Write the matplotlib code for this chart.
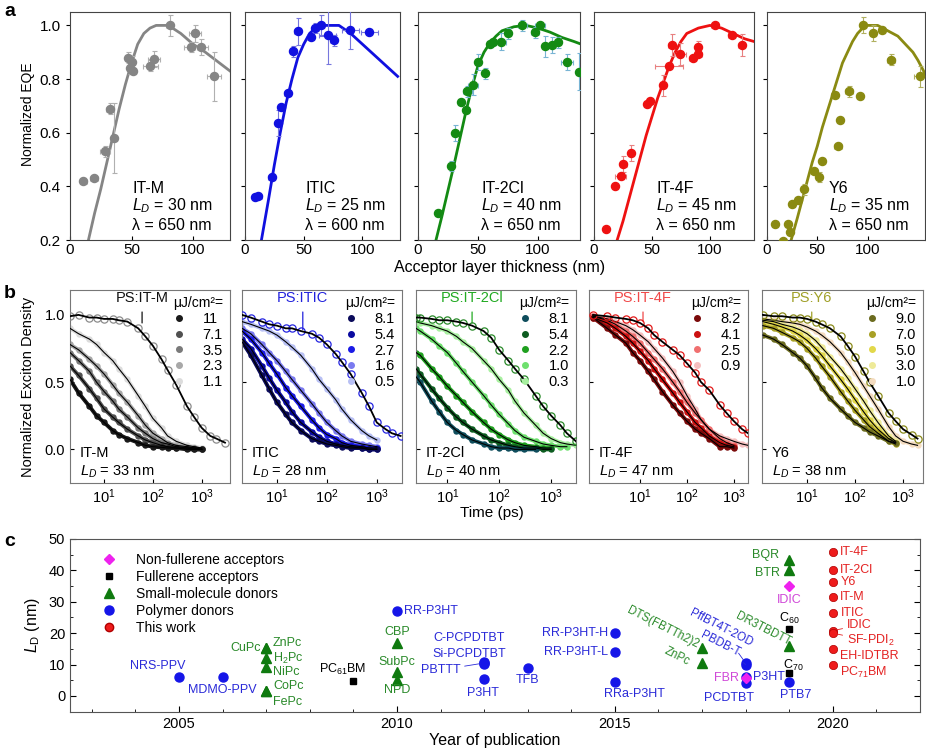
import numpy as np
from matplotlib import pyplot as plt
from matplotlib.lines import Line2D

plt.rcParams['font.family'] = ['Liberation Sans', 'DejaVu Sans']
plt.rcParams['mathtext.fontset'] = 'custom'
plt.rcParams['mathtext.rm'] = 'Liberation Sans'
plt.rcParams['mathtext.it'] = 'Liberation Sans:italic'

#==============================================================#
# (a) normalized EQE vs acceptor thickness
A_NAMES = ['IT-M', 'ITIC', 'IT-2Cl', 'IT-4F', 'Y6']
A_LD = [30, 25, 40, 45, 35]
A_LAMBDA = [650, 600, 650, 650, 650]

itm_x = [10.8, 19.6, 28.3, 32.4, 35.9, 47.3, 50.0, 48.6, 51.3, 65.4, 68.0, 81.0, 98.0, 101.4, 106.8, 117.0]
itm_y = [0.42, 0.43, 0.53, 0.69, 0.58, 0.88, 0.865, 0.84, 0.83, 0.85, 0.875, 1.0, 0.92, 0.97, 0.92, 0.81]
itm_yerr = [0.01, 0.01, 0.02, 0.02, 0.13, 0.02, 0.02, 0.02, 0.01, 0.02, 0.03, 0.04, 0.02, 0.03, 0.03, 0.09]
itm_xerr = [3, 3, 4, 3, 2, 2, 2, 2, 2, 6, 5, 3, 5, 5, 5, 6]
itm_fx = [15, 20, 25, 30, 35, 40, 45, 50, 55, 60, 65, 70, 80, 90, 100, 110, 120, 130]
itm_fy = [0.2, 0.3, 0.39, 0.49, 0.59, 0.69, 0.78, 0.86, 0.93, 0.97, 0.99, 1.0, 1.0, 0.97, 0.93, 0.9, 0.865, 0.83]

itic_x = [8.5, 11.3, 22.8, 27.9, 30.8, 36.2, 41.3, 45.0, 56.1, 59.8, 64.7, 70.4, 75.5, 89.7, 106.0]
itic_y = [0.36, 0.365, 0.435, 0.636, 0.696, 0.748, 0.904, 0.978, 0.958, 0.99, 1.0, 0.966, 0.944, 0.983, 0.977]
itic_yerr = [0.01, 0.01, 0.01, 0.05, 0.01, 0.01, 0.02, 0.05, 0.01, 0.02, 0.04, 0.11, 0.02, 0.07, 0.01]
itic_xerr = [2, 3, 3, 2, 2, 3, 3, 3, 3, 3, 3, 7, 3, 7, 7]
itic_fx = [14, 20, 25, 30, 35, 40, 45, 50, 55, 60, 65, 70, 80, 90, 100, 110, 120, 130]
itic_fy = [0.2, 0.35, 0.48, 0.6, 0.71, 0.8, 0.88, 0.93, 0.97, 0.99, 1.0, 1.0, 1.0, 0.97, 0.93, 0.89, 0.85, 0.81]

it2cl_x = [16.9, 27.5, 31.1, 35.6, 40.0, 41.1, 45.6, 50.3, 55.8, 60.0, 62.8, 69.2, 75.3, 87.0, 97.5, 101.7,
           105.8, 111.4, 116.9, 123.9, 134.4]
it2cl_y = [0.30, 0.476, 0.60, 0.714, 0.686, 0.754, 0.779, 0.863, 0.821, 0.931, 0.937, 0.94, 0.97, 1.0, 0.974,
           1.0, 0.922, 0.927, 0.937, 0.863, 0.828]
it2cl_yerr = [0.01, 0.02, 0.03, 0.01, 0.01, 0.02, 0.04, 0.03, 0.02, 0.01, 0.01, 0.03, 0.02, 0.02, 0.02, 0.01,
              0.04, 0.03, 0.02, 0.03, 0.07]
it2cl_xerr = [2, 2, 2, 2, 2, 4, 4, 2, 2, 2, 2, 4, 2, 4, 3, 4, 2, 2, 2, 5, 3]
it2cl_fx = [15, 20, 25, 30, 35, 40, 45, 50, 55, 60, 65, 70, 80, 90, 100, 110, 120, 130, 136]
it2cl_fy = [0.2, 0.29, 0.385, 0.48, 0.58, 0.68, 0.77, 0.85, 0.9, 0.935, 0.96, 0.98, 0.995, 1.0, 0.99, 0.975,
            0.955, 0.94, 0.93]

it4f_x = [10.3, 18.1, 23.0, 25.3, 31.9, 45.4, 48.3, 59.2, 64.9, 66.9, 74.1, 85.0, 89.9, 89.9, 104.3, 118.7, 127.3]
it4f_y = [0.24, 0.40, 0.438, 0.483, 0.525, 0.706, 0.72, 0.776, 0.847, 0.927, 0.894, 0.879, 0.894, 0.921, 1.0,
          0.966, 0.927]
it4f_yerr = [0.0, 0.01, 0.01, 0.03, 0.03, 0.01, 0.01, 0.04, 0.0, 0.04, 0.04, 0.01, 0.01, 0.02, 0.0, 0.0, 0.04]
it4f_xerr = [2, 2, 5, 3, 2, 2, 2, 2, 12, 3, 5, 3, 3, 2, 3, 3, 3]
it4f_fx = [20, 25, 30, 35, 40, 45, 50, 55, 60, 65, 70, 75, 80, 90, 100, 110, 120, 130, 138]
it4f_fy = [0.2, 0.27, 0.35, 0.43, 0.51, 0.59, 0.66, 0.73, 0.79, 0.85, 0.9, 0.94, 0.97, 0.99, 1.0, 0.99, 0.97,
           0.95, 0.94]

y6_x = [7.9, 15.5, 21.1, 22.8, 24.4, 30.4, 36.6, 46.5, 51.2, 54.5, 71.0, 72.3, 67.3, 81.2, 92.7, 95.4, 105.3,
        114.5, 123.4, 152.5]
y6_y = [0.258, 0.196, 0.26, 0.231, 0.333, 0.349, 0.389, 0.457, 0.435, 0.496, 0.549, 0.646, 0.742, 0.754, 0.736,
        1.0, 0.972, 0.983, 0.872, 0.81]
y6_yerr = [0.0, 0.0, 0.0, 0.01, 0.01, 0.01, 0.02, 0.01, 0.02, 0.01, 0.0, 0.01, 0.01, 0.02, 0.01, 0.03, 0.03,
           0.01, 0.02, 0.04]
y6_xerr = [2, 2, 2, 2, 3, 2, 3, 3, 3, 3, 4, 3, 3, 4, 3, 3, 3, 3, 4, 6]
y6_fx = [24, 30, 35, 40, 45, 50, 55, 60, 65, 70, 75, 80, 85, 90, 95, 100, 105, 110, 115, 120, 125, 130, 135,
         140, 145, 150, 157]
y6_fy = [0.2, 0.28, 0.35, 0.42, 0.49, 0.55, 0.62, 0.68, 0.74, 0.8, 0.86, 0.9, 0.94, 0.97, 0.99, 1.0, 1.0, 1.0,
         0.99, 0.98, 0.97, 0.96, 0.94, 0.92, 0.9, 0.87, 0.82]

#==============================================================#
# (b) exciton density decay (time in ps)
B_NAMES = ['IT-M', 'ITIC', 'IT-2Cl', 'IT-4F', 'Y6']
B_LD = [33, 28, 40, 47, 38]

itm_t = [2, 3, 5, 7, 10, 15, 20, 30, 50, 70, 100, 150, 200, 300, 500, 700, 1000, 1500, 2000, 3000]
itm_ps = [0.99, 1.0, 0.98, 0.98, 0.97, 0.97, 0.96, 0.95, 0.9, 0.84, 0.77, 0.67, 0.59, 0.48, 0.32, 0.24, 0.16,
          0.1, 0.08, 0.05]
itm_flu = ['11', '7.1', '3.5', '2.3', '1.1']
itm_n = [
    [0.52, 0.42, 0.32, 0.25, 0.2, 0.14, 0.11, 0.08, 0.05, 0.03, 0.02, 0.015, 0.01, 0.01, 0.0, 0.0, 0.0],
    [0.62, 0.55, 0.45, 0.38, 0.3, 0.24, 0.2, 0.15, 0.1, 0.07, 0.05, 0.03, 0.02, 0.01, 0.01, 0.0, 0.0],
    [0.72, 0.66, 0.58, 0.5, 0.43, 0.36, 0.3, 0.24, 0.16, 0.12, 0.08, 0.05, 0.04, 0.02, 0.01, 0.01, 0.0],
    [0.78, 0.74, 0.67, 0.62, 0.56, 0.48, 0.42, 0.35, 0.25, 0.18, 0.12, 0.08, 0.05, 0.03, 0.02, 0.01, 0.0],
    [0.9, 0.86, 0.82, 0.78, 0.72, 0.66, 0.6, 0.52, 0.4, 0.32, 0.23, 0.16, 0.1, 0.06, 0.03, 0.02, 0.01],
]

itic_t = [2, 3, 5, 7, 10, 15, 20, 30, 50, 70, 100, 150, 200, 300, 500, 700, 1000, 1500, 2000, 3000]
itic_ps = [1.0, 0.98, 0.95, 0.93, 0.92, 0.9, 0.9, 0.88, 0.86, 0.83, 0.78, 0.71, 0.65, 0.56, 0.42, 0.32, 0.2,
           0.15, 0.12, 0.1]
itic_flu = ['8.1', '5.4', '2.7', '1.6', '0.5']
itic_n = [
    [0.8, 0.7, 0.55, 0.45, 0.35, 0.26, 0.2, 0.14, 0.08, 0.06, 0.04, 0.03, 0.02, 0.01, 0.01, 0.0, 0.0],
    [0.82, 0.75, 0.62, 0.53, 0.44, 0.35, 0.28, 0.2, 0.13, 0.09, 0.06, 0.04, 0.03, 0.02, 0.01, 0.0, 0.0],
    [0.88, 0.82, 0.72, 0.64, 0.56, 0.46, 0.4, 0.32, 0.22, 0.16, 0.11, 0.08, 0.05, 0.03, 0.02, 0.01, 0.01],
    [0.9, 0.86, 0.78, 0.72, 0.66, 0.58, 0.52, 0.44, 0.34, 0.27, 0.2, 0.14, 0.1, 0.06, 0.04, 0.03, 0.02],
    [0.95, 0.93, 0.9, 0.88, 0.85, 0.8, 0.76, 0.7, 0.6, 0.52, 0.45, 0.37, 0.3, 0.22, 0.14, 0.1, 0.07],
]

it2cl_t = [2.5, 3, 5, 7, 10, 15, 20, 30, 50, 70, 100, 150, 200, 300, 500, 700, 1000, 1500, 2000, 3000]
it2cl_ps = [0.98, 0.98, 0.97, 0.96, 0.96, 0.95, 0.94, 0.92, 0.88, 0.83, 0.74, 0.66, 0.6, 0.52, 0.4, 0.32,
            0.25, 0.18, 0.12, 0.06]
it2cl_flu = ['8.1', '5.4', '2.2', '1.0', '0.3']
it2cl_n = [
    [0.54, 0.5, 0.36, 0.28, 0.2, 0.14, 0.11, 0.07, 0.04, 0.02, 0.01, 0.01, 0.0, 0.0, 0.0],
    [0.6, 0.56, 0.45, 0.38, 0.31, 0.24, 0.2, 0.15, 0.1, 0.07, 0.05, 0.03, 0.02, 0.01, 0.01, 0.0, 0.0],
    [0.72, 0.7, 0.6, 0.54, 0.47, 0.4, 0.35, 0.28, 0.2, 0.15, 0.11, 0.07, 0.05, 0.03, 0.02, 0.01, 0.01],
    [0.9, 0.88, 0.82, 0.77, 0.72, 0.64, 0.58, 0.5, 0.4, 0.33, 0.26, 0.19, 0.14, 0.09, 0.06, 0.04, 0.03, 0.02, 0.02],
    [0.95, 0.94, 0.92, 0.9, 0.88, 0.84, 0.8, 0.75, 0.66, 0.6, 0.52, 0.44, 0.36, 0.27, 0.18, 0.12, 0.08, 0.05,
     0.04, 0.03],
]

it4f_t = [1, 2, 3, 5, 7, 10, 15, 20, 30, 50, 70, 100, 150, 200, 300, 500, 700, 1000, 1500, 2000]
it4f_ps = [1.0, 0.99, 0.98, 0.97, 0.96, 0.94, 0.9, 0.85, 0.8, 0.74, 0.7, 0.64, 0.57, 0.5, 0.44, 0.33, 0.27,
           0.21, 0.15, 0.12]
it4f_flu = ['8.2', '4.1', '2.5', '0.9']
it4f_n = [
    [0.98, 0.9, 0.85, 0.79, 0.72, 0.66, 0.58, 0.52, 0.43, 0.33, 0.27, 0.21, 0.15, 0.12, 0.08, 0.02, 0.02, 0.01],
    [0.98, 0.94, 0.9, 0.84, 0.79, 0.73, 0.66, 0.6, 0.52, 0.42, 0.35, 0.28, 0.2, 0.16, 0.1, 0.05, 0.03, 0.02],
    [0.99, 0.96, 0.93, 0.88, 0.84, 0.79, 0.72, 0.67, 0.6, 0.5, 0.43, 0.35, 0.27, 0.22, 0.15, 0.08, 0.05, 0.03],
    [0.99, 0.97, 0.95, 0.92, 0.89, 0.85, 0.8, 0.75, 0.68, 0.58, 0.5, 0.4, 0.3, 0.22, 0.15, 0.1, 0.08, 0.06,
     0.04, 0.03],
]

y6_t = [1.2, 2, 3, 5, 7, 10, 15, 20, 30, 50, 70, 100, 150, 200, 300, 500, 700, 1000, 1500, 2000]
y6_ps = [1.0, 0.99, 0.99, 0.98, 0.98, 0.97, 0.95, 0.93, 0.9, 0.84, 0.77, 0.69, 0.58, 0.5, 0.4, 0.27, 0.21,
         0.15, 0.11, 0.08]
y6_flu = ['9.0', '7.0', '5.0', '3.0', '1.0']
y6_n = [
    [0.85, 0.82, 0.78, 0.72, 0.68, 0.62, 0.53, 0.46, 0.38, 0.3, 0.25, 0.2, 0.16, 0.13, 0.1, 0.06, 0.05],
    [0.92, 0.9, 0.87, 0.83, 0.8, 0.75, 0.68, 0.62, 0.54, 0.43, 0.36, 0.29, 0.22, 0.17, 0.12, 0.06, 0.04],
    [0.95, 0.93, 0.91, 0.88, 0.85, 0.81, 0.75, 0.7, 0.62, 0.52, 0.45, 0.37, 0.28, 0.22, 0.15, 0.08, 0.05],
    [0.96, 0.95, 0.93, 0.91, 0.89, 0.86, 0.81, 0.76, 0.69, 0.6, 0.53, 0.45, 0.36, 0.29, 0.2, 0.1, 0.06],
    [0.97, 0.96, 0.95, 0.94, 0.93, 0.91, 0.88, 0.85, 0.8, 0.72, 0.65, 0.57, 0.47, 0.4, 0.3, 0.17, 0.1, 0.06,
     0.04, 0.03],
]

#==============================================================#
# (c) L_D vs year of publication
nfa_year = [2018, 2019]
nfa_ld = [5.6, 35.0]
nfa_name = ['FBR', 'IDIC']

ful_year = [2009, 2019, 2019]
ful_ld = [4.8, 21.2, 7.2]
ful_name = ['PC$_{61}$BM', 'C$_{60}$', 'C$_{70}$']

sm_year = [2007, 2007, 2007, 2007, 2007, 2007, 2010, 2010, 2010, 2017, 2017, 2019, 2019, 2019]
sm_ld = [15.3, 15.3, 12.0, 9.1, 1.5, 1.5, 17.0, 7.7, 5.1, 15.2, 10.4, 43.3, 40.1, 15.9]
sm_name = ['CuPc', 'ZnPc', 'H$_2$Pc', 'NiPc', 'CoPc', 'FePc', 'CBP', 'SubPc', 'NPD',
           'DTS(FBTTh2)2', 'ZnPc', 'BQR', 'BTR', 'DR3TBDTT']

pol_year = [2005, 2006, 2010, 2012, 2012, 2012, 2012, 2013, 2015, 2015, 2015, 2018, 2018, 2018, 2018, 2019]
pol_ld = [6.0, 6.0, 27.0, 10.8, 10.2, 10.5, 5.3, 8.8, 20.0, 14.0, 4.6, 10.5, 10.0, 6.2, 4.0, 4.4]
pol_name = ['NRS-PPV', 'MDMO-PPV', 'RR-P3HT', 'C-PCPDTBT', 'Si-PCPDTBT', 'PBTTT', 'P3HT', 'TFB',
            'RR-P3HT-H', 'RR-P3HT-L', 'RRa-P3HT', 'PffBT4T-2OD', 'PBDB-T', 'P3HT', 'PCDTBT', 'PTB7']

tw_year = [2020] * 9
tw_ld = [46.0, 40.0, 36.4, 31.6, 26.5, 20.8, 20.0, 15.0, 9.9]
tw_name = ['IT-4F', 'IT-2Cl', 'Y6', 'IT-M', 'ITIC', 'IDIC', 'SF-PDI$_2$', 'EH-IDTBR', 'PC$_{71}$BM']

#==============================================================#
W, H = 926, 750
fig = plt.figure(figsize=(W / 100, H / 100), dpi=100)


def px_rect(l, r, t, b):
    """pixel box -> figure fraction"""
    return [l / W, 1 - b / H, (r - l) / W, (b - t) / H]


def fig_xy(x, y):
    return x / W, 1 - y / H


#--------------------------------------------------------------#
# panel a
a_left = [70, 245, 418, 594, 767]
a_right = [230, 400, 580, 754, 925]
a_xmax = [130, 132, 135, 138, 157]
a_col = ['#858585', '#1010e0', '#138a13', '#ee1111', '#8a8a12']
a_ecol = ['#b0b0b0', '#7777dd', '#78b4d4', '#e88080', '#b0b060']
a_data = [(itm_x, itm_y, itm_xerr, itm_yerr, itm_fx, itm_fy),
          (itic_x, itic_y, itic_xerr, itic_yerr, itic_fx, itic_fy),
          (it2cl_x, it2cl_y, it2cl_xerr, it2cl_yerr, it2cl_fx, it2cl_fy),
          (it4f_x, it4f_y, it4f_xerr, it4f_yerr, it4f_fx, it4f_fy),
          (y6_x, y6_y, y6_xerr, y6_yerr, y6_fx, y6_fy)]

for i in range(5):
    ax = fig.add_axes(px_rect(a_left[i], a_right[i], 12, 240))
    x, y, xe, ye, fx, fy = a_data[i]
    ax.plot(fx, fy, color=a_col[i], lw=2.0, zorder=2)
    ax.errorbar(x, y, xerr=xe, yerr=ye, fmt='none', ecolor=a_ecol[i], elinewidth=0.8,
                capsize=1.8, capthick=0.8, zorder=3)
    ax.plot(x, y, 'o', color=a_col[i], ms=5.8, mec=a_col[i], zorder=4)
    ax.set_xlim(0, a_xmax[i])
    ax.set_ylim(0.2, 1.05)
    ax.set_xticks([0, 50, 100])
    ax.set_yticks([0.2, 0.4, 0.6, 0.8, 1.0])
    ax.tick_params(axis='x', direction='in', length=3, labelsize=11, pad=2)
    ax.tick_params(axis='y', direction='out', length=3, labelsize=11)
    if i > 0:
        ax.set_yticklabels([])
    else:
        ax.set_yticklabels(['0.2', '0.4', '0.6', '0.8', '1.0'])
    for s in ax.spines.values():
        s.set_color('#444444')
    ax.text(0.39, 0.224, A_NAMES[i], transform=ax.transAxes, fontsize=11.5, va='center')
    ax.text(0.39, 0.150, '$L_D$ = %d nm' % A_LD[i], transform=ax.transAxes, fontsize=11.5, va='center')
    ax.text(0.39, 0.062, 'λ = %d nm' % A_LAMBDA[i], transform=ax.transAxes, fontsize=11.5, va='center')

fig.text(*fig_xy(500, 268), 'Acceptor layer thickness (nm)', ha='center', va='center', fontsize=11.5)
fig.text(*fig_xy(28, 114), 'Normalized EQE', rotation=90, ha='center', va='center', fontsize=10)

#--------------------------------------------------------------#
# panel b
b_left = [70, 242, 416, 589, 762]
b_right = [230, 402, 576, 748, 923]
b_xlim = [(2, 3800), (2, 3200), (2.5, 3000), (0.82, 2000), (1.15, 2600)]
b_open = ['#8c8c8c', '#2525e0', '#2a8a2a', '#e21a1a', '#8a8a1a']
b_title_col = ['#111111', '#2222dd', '#22aa22', '#f04848', '#a0a028']
b_cols = [['#1a1a1a', '#505050', '#7a7a7a', '#a8a8a8', '#dcdcdc'],
          ['#0a0a5a', '#0a0aa0', '#1a1ae6', '#7a7af0', '#b8c0f4'],
          ['#0f4d5c', '#0d5c20', '#1fa01f', '#6ee06e', '#a8f0a0'],
          ['#7a0a0a', '#cc1010', '#f07070', '#f6c0c0'],
          ['#6b6b1f', '#a8a025', '#e2d84a', '#eeea98', '#f4dcc0']]
b_data = [(itm_t, itm_ps, itm_flu, itm_n),
          (itic_t, itic_ps, itic_flu, itic_n),
          (it2cl_t, it2cl_ps, it2cl_flu, it2cl_n),
          (it4f_t, it4f_ps, it4f_flu, it4f_n),
          (y6_t, y6_ps, y6_flu, y6_n)]
# where the "PS:xx" tag points (time, density)
b_tag_t = [60, 33, 30, 11.6, 12.5]
b_tag_n = [0.94, 0.89, 0.94, 0.95, 0.95]

for i in range(5):
    ax = fig.add_axes(px_rect(b_left[i], b_right[i], 290, 483))
    t, ps, flu, ns = b_data[i]
    for k in range(len(ns) - 1, -1, -1):
        v = ns[k]
        ax.plot(t[:len(v)], v, 'o-', color=b_cols[i][k], ms=3.6, lw=2.8, zorder=2)
    for k in range(len(ns)):
        v = ns[k]
        ax.plot(t[:len(v)], v, '-', color='black', lw=0.8, zorder=3)
    ax.plot(t, ps, 'o', mfc='none', mec=b_open[i], ms=5.2, mew=0.9, zorder=4)
    ax.plot(t, ps, '-', color='black', lw=1.3, zorder=5)
    ax.set_xscale('log')
    ax.set_xlim(*b_xlim[i])
    ax.set_ylim(-0.25, 1.185)
    ax.set_xticks([10, 100, 1000])
    ax.xaxis.set_minor_locator(plt.NullLocator())
    ax.set_yticks([0.0, 0.5, 1.0])
    ax.tick_params(direction='in', length=3, labelsize=10.5)
    if i > 0:
        ax.set_yticklabels([])
    else:
        ax.set_yticklabels(['0.0', '0.5', '1.0'])
    for s in ax.spines.values():
        s.set_color('#777777')
    ax.annotate('PS:' + B_NAMES[i], xy=(b_tag_t[i], b_tag_n[i]), xytext=(b_tag_t[i], 1.125),
                ha='center', va='center', fontsize=10.5, color=b_title_col[i],
                arrowprops=dict(arrowstyle='-', color=b_title_col[i], lw=0.9, shrinkA=3, shrinkB=0))
    hs = [Line2D([], [], marker='o', ls='', color=c, ms=4) for c in b_cols[i]]
    leg = ax.legend(hs, flu, loc='upper right', bbox_to_anchor=(1.02, 1.02), frameon=False,
                    title='μJ/cm²=', title_fontsize=10, fontsize=10.5, labelspacing=0.12,
                    handlelength=0.8, handletextpad=1.2, borderaxespad=0.3)
    ax.text(0.06, 0.155, B_NAMES[i], transform=ax.transAxes, fontsize=10.5, va='center')
    ax.text(0.06, 0.057, '$L_D$ = %d nm' % B_LD[i], transform=ax.transAxes, fontsize=10.5, va='center')

fig.text(*fig_xy(492, 513), 'Time (ps)', ha='center', va='center', fontsize=11)
fig.text(*fig_xy(28, 387), 'Normalized Exciton Density', rotation=90, ha='center', va='center', fontsize=10.5)

#--------------------------------------------------------------#
# panel c
ax = fig.add_axes(px_rect(70, 920, 539, 712))
C_BLUE, C_GREEN, C_MAG, C_RED = '#1515e8', '#0f7a0f', '#ee22ee', '#ee1c1c'
T_BLUE, T_GREEN, T_MAG, T_RED = '#2a2ad8', '#2a8a2a', '#d048d8', '#e42222'

ax.plot(pol_year, pol_ld, 'o', color=C_BLUE, ms=6.5, ls='', zorder=3)
ax.plot(sm_year, sm_ld, '^', color=C_GREEN, ms=6.5, ls='', zorder=3)
ax.plot(ful_year, ful_ld, 's', color='black', ms=5, ls='', zorder=3)
ax.plot(nfa_year, nfa_ld, 'D', color=C_MAG, ms=5.5, ls='', zorder=4)
ax.plot(tw_year, tw_ld, 'o', color=C_RED, mec='#b00000', mew=0.5, ms=6, ls='', zorder=3)

# label offsets (points), alignment, rotation
pol_off = [(-15, 8), (0, -9), (5, 0), (-11, 17), (-11, 7.5), (-17, -5), (-1, -9.5), (0, -8.5),
           (-5, 0), (-5, 0), (14, -9), (-18, 25), (-18, 15), (5, 0), (-12, -10.5), (5, -9)]
pol_ha = ['center', 'center', 'left', 'center', 'center', 'right', 'center', 'center',
          'right', 'right', 'center', 'center', 'center', 'left', 'center', 'center']
pol_rot = [0] * 11 + [-27, -27, 0, 0, 0]
pol_lead = [False] * 5 + [True] + [False] * 5 + [True, True] + [False] * 3
sm_off = [(-4, 0), (5, 3.5), (5, 0), (5, -3), (5, 3.5), (5, -7.5), (0, 8), (0, 7.2), (0, -7.2),
          (-28, 15), (-18, 5), (-7, 3.5), (-7, -2), (-19, 12)]
sm_ha = ['right', 'left', 'left', 'left', 'left', 'left', 'center', 'center', 'center',
         'center', 'center', 'right', 'right', 'center']
sm_rot = [0] * 9 + [-27, -27, 0, 0, -27]
ful_off = [(-8, 8), (0, 8), (3, 6)]
nfa_off = [(-5, 0), (0, -10)]
nfa_ha = ['right', 'center']
tw_off = [(5, 0), (5, 0), (6, 0), (5, 0), (6, 0), (10, 4), (10, -5.5), (5, -5), (5, -5.5)]
tw_lead = [False] * 5 + [True, True, False, False]


def label_points(xs, ys, names, offs, has, rots, col, leads):
    for x, y, s, o, ha, r, ld in zip(xs, ys, names, offs, has, rots, leads):
        kw = dict(textcoords='offset points', ha=ha, va='center', color=col,
                  fontsize=8.3 if r else 9, rotation=r, rotation_mode='anchor')
        if ld:
            kw['arrowprops'] = dict(arrowstyle='-', color=col, lw=0.6, shrinkA=1, shrinkB=3)
        ax.annotate(s, (x, y), xytext=o, **kw)


label_points(pol_year, pol_ld, pol_name, pol_off, pol_ha, pol_rot, T_BLUE, pol_lead)
label_points(sm_year, sm_ld, sm_name, sm_off, sm_ha, sm_rot, T_GREEN, [False] * len(sm_name))
label_points(ful_year, ful_ld, ful_name, ful_off, ['center'] * 3, [0] * 3, 'black', [False] * 3)
label_points(nfa_year, nfa_ld, nfa_name, nfa_off, nfa_ha, [0, 0], T_MAG, [False] * 2)
label_points(tw_year, tw_ld, tw_name, tw_off, ['left'] * 9, [0] * 9, T_RED, tw_lead)

ax.set_xlim(2002.5, 2022)
ax.set_ylim(-5.1, 50)
ax.set_xticks([2005, 2010, 2015, 2020])
ax.set_xticks(range(2003, 2022), minor=True)
ax.set_yticks([0, 10, 20, 30, 40, 50])
ax.set_yticks(range(-5, 50, 5), minor=True)
ax.tick_params(which='both', direction='in', right=True, labelsize=10.5)
ax.tick_params(which='major', length=4)
ax.tick_params(which='minor', length=2.5)
for s in ax.spines.values():
    s.set_color('#555555')

hs = [Line2D([], [], marker='D', color=C_MAG, ls='', ms=5.5),
      Line2D([], [], marker='s', color='black', ls='', ms=5),
      Line2D([], [], marker='^', color=C_GREEN, ls='', ms=6.5),
      Line2D([], [], marker='o', color=C_BLUE, ls='', ms=6.5),
      Line2D([], [], marker='o', color=C_RED, mec='#b00000', ls='', ms=6)]
ax.legend(hs, ['Non-fullerene acceptors', 'Fullerene acceptors', 'Small-molecule donors',
               'Polymer donors', 'This work'], loc='upper left', bbox_to_anchor=(0.02, 0.97),
          frameon=False, fontsize=10, labelspacing=0.22, handletextpad=0.9, borderaxespad=0.2)

fig.text(*fig_xy(495, 740), 'Year of publication', ha='center', va='center', fontsize=11.5)
fig.text(*fig_xy(33, 625), '$L_\\mathrm{D}$ (nm)', rotation=90, ha='center', va='center', fontsize=11.5)

#--------------------------------------------------------------#
for s, y in zip(['a', 'b', 'c'], [12, 293, 542]):
    fig.text(*fig_xy(10, y), s, fontsize=14, fontweight='bold', ha='center', va='center')

fig.savefig('out.png', dpi=100)
